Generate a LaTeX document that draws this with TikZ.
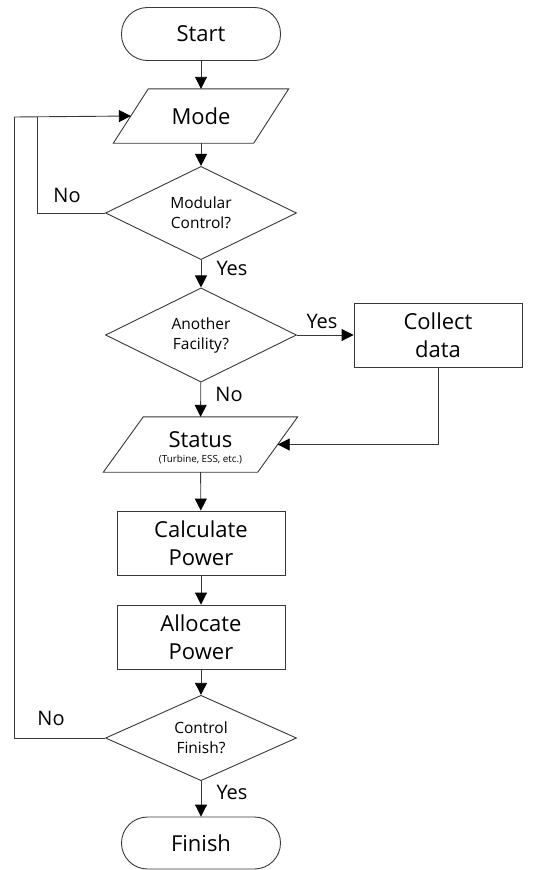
\documentclass[tikz,border=0pt]{standalone}
\usepackage{fontspec}
\setmainfont{Open Sans}
\usetikzlibrary{arrows.meta,shapes.geometric}

\begin{document}
\begin{tikzpicture}[x=1pt,y=-1pt,
  line/.style={draw=black!78, line width=0.9pt},
  arrow/.style={line, -{Triangle[length=12pt,width=12pt,color=black]}},
  bigtext/.style={font=\fontsize{22}{28}\selectfont},
  terminal/.style={line, bigtext, rectangle, rounded corners=26pt,
    minimum width=159pt, minimum height=53pt, inner sep=0pt},
  process/.style={line, bigtext, rectangle, align=center,
    minimum width=168pt, minimum height=64pt, inner sep=0pt},
  decision/.style={line, diamond, align=center, inner sep=0pt,
    minimum width=191pt, minimum height=79pt,
    font=\fontsize{15.5}{20}\selectfont},
  iobox/.style={rectangle, inner sep=0pt, minimum height=54pt},
  lbl/.style={font=\fontsize{20}{24}\selectfont, inner sep=0pt}
]
\useasboundingbox (0,0) rectangle (533,870);

% main column
\node[terminal] (start) at (201,34) {Start};
\node[iobox, bigtext, minimum width=140pt] (mode) at (201,116) {Mode};
\node[decision] (mc) at (201,213) {Modular\\Control?};
\node[decision] (af) at (201,335) {Another\\Facility?};
\node[process] (cd) at (438,335) {Collect\\data};
\node[iobox, minimum width=154pt, minimum height=55pt] (st) at (200.5,444.5) {};
\node[bigtext, anchor=base, inner sep=0pt] (sttitle) at (200.5,447.5) {Status};
\node[anchor=base, inner sep=0pt, font=\fontsize{9.8}{11}\selectfont] (stsub) at (200.5,462.5) {(Turbine, ESS, etc.)};
\node[process] (calc) at (201,543) {Calculate\\Power};
\node[process] (alloc) at (201,637) {Allocate\\Power};
\node[decision] (cf) at (201,738) {Control\\Finish?};
\node[terminal, minimum height=52pt] (finish) at (201,843) {Finish};

% parallelogram outlines of the input/output boxes
\draw[line] ([xshift=17.5pt]mode.north west) -- ([xshift=17.5pt]mode.north east)
  -- ([xshift=-17.5pt]mode.south east) -- ([xshift=-17.5pt]mode.south west) -- cycle;
\draw[line] ([xshift=20pt]st.north west) -- ([xshift=20pt]st.north east)
  -- ([xshift=-20pt]st.south east) -- ([xshift=-20pt]st.south west) -- cycle;

% loop-back junctions
\coordinate (jin) at (37,117);
\coordinate (jout) at (14,117);

% connectors
\draw[arrow] (start) -- (mode);
\draw[arrow] (mode) -- (mc);
\draw[arrow] (mc) -- (af);
\draw[arrow] (af) -- (cd);
\draw[arrow] (af) -- (st);
\draw[arrow] (cd.south) |- (st.east);
\draw[arrow] (st) -- (calc);
\draw[arrow] (calc) -- (alloc);
\draw[arrow] (alloc) -- (cf);
\draw[arrow] (cf) -- (finish);
\draw[line] (mc.west) -| (jin);
\draw[line] (cf.west) -| (jout);
\draw[arrow] (jout) -- (mode.west);

% branch labels
\node[lbl] (mcno) at (67,195) {No};
\node[lbl] (mcyes) at (232,268) {Yes};
\node[lbl] (afyes) at (322,321) {Yes};
\node[lbl] (afno) at (229,394) {No};
\node[lbl] (cfno) at (51,718) {No};
\node[lbl] (cfyes) at (232,792) {Yes};
\end{tikzpicture}
\end{document}
